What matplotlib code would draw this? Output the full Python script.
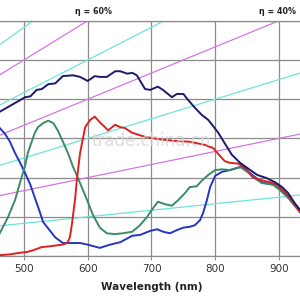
import matplotlib
matplotlib.use("Agg")
import matplotlib.pyplot as plt
import numpy as np

# responsivity curves (A/W)
navy_wl = [462, 502, 510, 520, 528, 538, 549, 561, 577, 588, 600, 611, 619, 630, 643, 651,
           662, 670, 677, 690, 698, 710, 718, 732, 740, 750, 757, 768, 779, 789, 797, 804,
           815, 826, 839, 855, 866, 881, 894, 905, 914, 925, 935]
navy_r = [0.178, 0.196, 0.197, 0.205, 0.206, 0.212, 0.213, 0.222, 0.223, 0.221, 0.216, 0.222,
          0.221, 0.221, 0.228, 0.228, 0.225, 0.226, 0.223, 0.206, 0.205, 0.209, 0.205, 0.196,
          0.200, 0.200, 0.193, 0.183, 0.174, 0.168, 0.160, 0.153, 0.139, 0.125, 0.115, 0.106,
          0.100, 0.096, 0.091, 0.085, 0.078, 0.065, 0.055]

red_wl = [462, 478, 494, 505, 514, 528, 541, 560, 568, 572, 575, 580, 583, 588, 596, 604, 611,
          619, 627, 632, 643, 651, 658, 670, 690, 713, 737, 760, 784, 797, 808, 815, 823, 836,
          847, 859, 870, 886, 897, 906, 917, 935]
red_r = [0.001, 0.002, 0.004, 0.005, 0.007, 0.011, 0.012, 0.014, 0.016, 0.023, 0.038, 0.069,
         0.094, 0.127, 0.159, 0.168, 0.172, 0.165, 0.159, 0.155, 0.162, 0.159, 0.158, 0.152,
         0.147, 0.144, 0.142, 0.141, 0.137, 0.133, 0.123, 0.117, 0.115, 0.114, 0.109, 0.097,
         0.094, 0.091, 0.088, 0.081, 0.072, 0.052]

green_wl = [462, 475, 486, 494, 502, 506, 513, 517, 522, 530, 538, 546, 553, 560, 569, 577,
            588, 599, 608, 619, 630, 643, 655, 670, 682, 693, 698, 710, 721, 732, 742, 753,
            760, 771, 779, 789, 800, 811, 823, 839, 850, 862, 873, 891, 902, 914, 935]
green_r = [0.028, 0.048, 0.069, 0.091, 0.112, 0.127, 0.143, 0.152, 0.159, 0.164, 0.167, 0.164,
           0.155, 0.143, 0.127, 0.110, 0.090, 0.069, 0.051, 0.035, 0.028, 0.027, 0.028, 0.030,
           0.038, 0.048, 0.054, 0.067, 0.064, 0.062, 0.069, 0.078, 0.085, 0.086, 0.093, 0.100,
           0.106, 0.107, 0.106, 0.110, 0.104, 0.096, 0.090, 0.088, 0.081, 0.072, 0.052]

blue_wl = [462, 470, 478, 486, 494, 502, 510, 517, 525, 530, 536, 549, 561, 588, 600, 619,
           635, 651, 670, 682, 698, 709, 718, 729, 740, 750, 760, 768, 776, 781, 787, 792,
           800, 811, 823, 836, 842, 855, 873, 891, 906, 917, 935]
blue_r = [0.158, 0.151, 0.141, 0.127, 0.115, 0.102, 0.088, 0.072, 0.054, 0.042, 0.036, 0.023,
          0.016, 0.016, 0.014, 0.010, 0.014, 0.017, 0.025, 0.026, 0.031, 0.033, 0.030, 0.028,
          0.032, 0.035, 0.036, 0.038, 0.044, 0.053, 0.069, 0.085, 0.099, 0.104, 0.106, 0.109,
          0.110, 0.102, 0.091, 0.088, 0.080, 0.072, 0.054]

# iso quantum efficiency lines
eta_levels = [0.7, 0.6, 0.5, 0.4, 0.3, 0.2, 0.1]
eta_labels = ["η = 60%", "η = 40%"]
eta_label_wl = [609, 897]
x_ticks = [500, 600, 700, 800, 900]

r_top = 0.29

fig = plt.figure(figsize=(3, 3), dpi=100)
ax = fig.add_axes([0, 0.1467, 1, 0.7833])

for i, eta in enumerate(eta_levels):
    col = "#6ee3dc" if i % 2 == 0 else "#d276e2"
    ax.axline((0, 0), slope=eta / 1240, color=col, lw=0.9, zorder=2)

for txt, wl in zip(eta_labels, eta_label_wl):
    ax.annotate(txt, xy=(wl, r_top), xytext=(0, 7), textcoords="offset points",
                ha="center", va="center", fontsize=5.8, fontweight="bold", color="#222222",
                annotation_clip=False)

ax.plot(blue_wl, blue_r, color="#2436c4", lw=1.4, zorder=3)
ax.plot(green_wl, green_r, color="#3c8a68", lw=1.4, zorder=3)
ax.plot(red_wl, red_r, color="#e0201e", lw=1.4, zorder=4)
ax.plot(navy_wl, navy_r, color="#1b1a6c", lw=1.4, zorder=5)

ax.set_xlim(462.4, 933)
ax.set_ylim(0, r_top)
ax.set_xticks(x_ticks)
ax.set_yticks(np.linspace(0, r_top, 7))
ax.set_yticklabels([])
ax.grid(True, color="#8c8c8c", lw=0.9, zorder=1)
ax.tick_params(axis="x", length=3, color="#8c8c8c", labelsize=7.5, labelcolor="#333333", pad=3)
ax.tick_params(axis="y", length=0)
for s in ["left", "right"]:
    ax.spines[s].set_visible(False)
for s in ["top", "bottom"]:
    ax.spines[s].set_color("#8c8c8c")
    ax.spines[s].set_linewidth(0.9)

fig.text(0.507, 0.043, "Wavelength (nm)", ha="center", va="center", fontsize=7.5,
         fontweight="bold", color="#222222")

# watermark seen across the middle of the picture
ax.text(0.505, 0.49, "trade.china.cn", transform=ax.transAxes, ha="center", va="center",
        fontsize=12, color="#d4d4d4", alpha=0.8, zorder=6)

fig.savefig("out.png", dpi=100)
